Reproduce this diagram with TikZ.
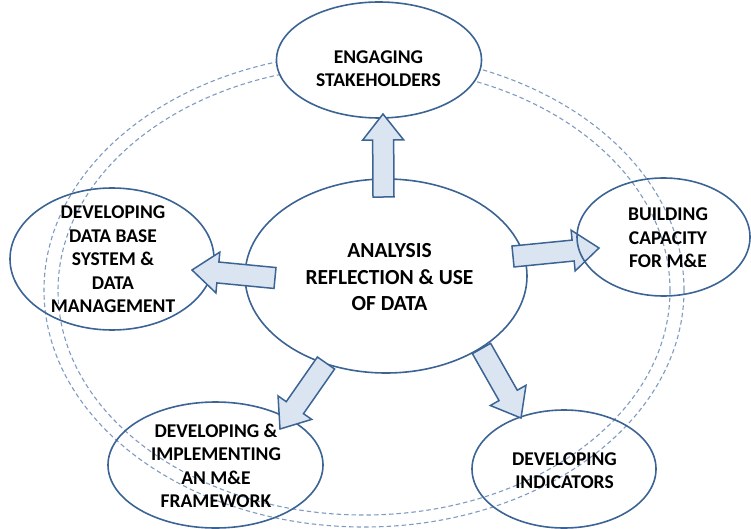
\documentclass[tikz,border=0pt]{standalone}
\usepackage{fontspec}
\setmainfont{Carlito}
\usetikzlibrary{shapes.geometric,calc}
\definecolor{edge}{HTML}{3B6495}
\definecolor{afill}{HTML}{DBE5F1}
\definecolor{ringc}{HTML}{7F9BC2}
\begin{document}
\begin{tikzpicture}[x=1pt,y=-1pt,
  bubble/.style={ellipse, draw=edge, line width=1.6pt, inner sep=0pt},
  lbl/.style={align=center, inner sep=0pt, font=\fontsize{19.5}{23.5}\selectfont\bfseries, text=black},
  ring/.style={ellipse, draw=ringc, line width=1.1pt, dash pattern=on 4.5pt off 3pt, inner sep=0pt},
  blockarrow/.style={draw=edge, fill=afill, line width=1.5pt, line join=miter,
    to path={let \p1=(\tikztostart), \p2=(\tikztotarget), \p3=($(\tikztotarget)!26pt!(\tikztostart)$) in
      ($(\p1)!10.5pt!90:(\p2)$) -- ($(\p3)!10.5pt!-90:(\p1)$) -- ($(\p3)!20.5pt!-90:(\p1)$) -- (\p2)
      -- ($(\p3)!20.5pt!90:(\p1)$) -- ($(\p3)!10.5pt!90:(\p1)$) -- ($(\p1)!10.5pt!-90:(\p2)$) -- cycle}}]
\useasboundingbox (0,0) rectangle (751,529);
% dashed rings
\node[ring, minimum width=640pt, minimum height=474pt] (ringO) at (364,290) {};
\node[ring, minimum width=612pt, minimum height=449pt] (ringI) at (364,290.5) {};
% bubbles
\node[bubble, minimum width=282pt, minimum height=194pt] (center) at (386,276) {};
\node[bubble, fill=white, minimum width=205pt, minimum height=116pt] (eng) at (379,60) {};
\node[bubble, minimum width=204pt, minimum height=142pt] (dbase) at (112,259) {};
\node[bubble, minimum width=215pt, minimum height=126pt] (frame) at (215.5,465) {};
\node[bubble, minimum width=184pt, minimum height=118pt] (ind) at (564,469) {};
% arrow anchors
\coordinate (uT) at (383.5,197);  \coordinate (uH) at (383,114);
\coordinate (rT) at (513,256.5);  \coordinate (rH) at (599,248);
\coordinate (lT) at (275,278);    \coordinate (lH) at (192,270);
\coordinate (blT) at (326,363);   \coordinate (blH) at (280,429);
\coordinate (brT) at (481.5,348.5); \coordinate (brH) at (521,418);
\draw[blockarrow] (uT) to (uH);
\draw[blockarrow] (rT) to (rH);
\draw[blockarrow] (lT) to (lH);
\draw[blockarrow] (blT) to (blH);
\draw[blockarrow] (brT) to (brH);
\node[bubble, minimum width=173pt, minimum height=118pt] (cap) at (663.5,237) {};
% labels
\node[lbl, font=\fontsize{21.5}{26.5}\selectfont\bfseries] (tcenter) at (389.5,277.5) {ANALYSIS\\REFLECTION \& USE\\OF DATA};
\node[lbl] (teng) at (378.5,68.5) {ENGAGING\\STAKEHOLDERS};
\node[lbl] (tdb) at (113,259.5) {DEVELOPING\\DATA BASE\\SYSTEM \&\\DATA\\MANAGEMENT};
\node[lbl] (tcap) at (668,238) {BUILDING\\CAPACITY\\FOR M\&E};
\node[lbl] (tframe) at (216,466) {DEVELOPING \&\\IMPLEMENTING\\AN M\&E\\FRAMEWORK};
\node[lbl] (tind) at (564.5,470.5) {DEVELOPING\\INDICATORS};
\end{tikzpicture}
\end{document}
